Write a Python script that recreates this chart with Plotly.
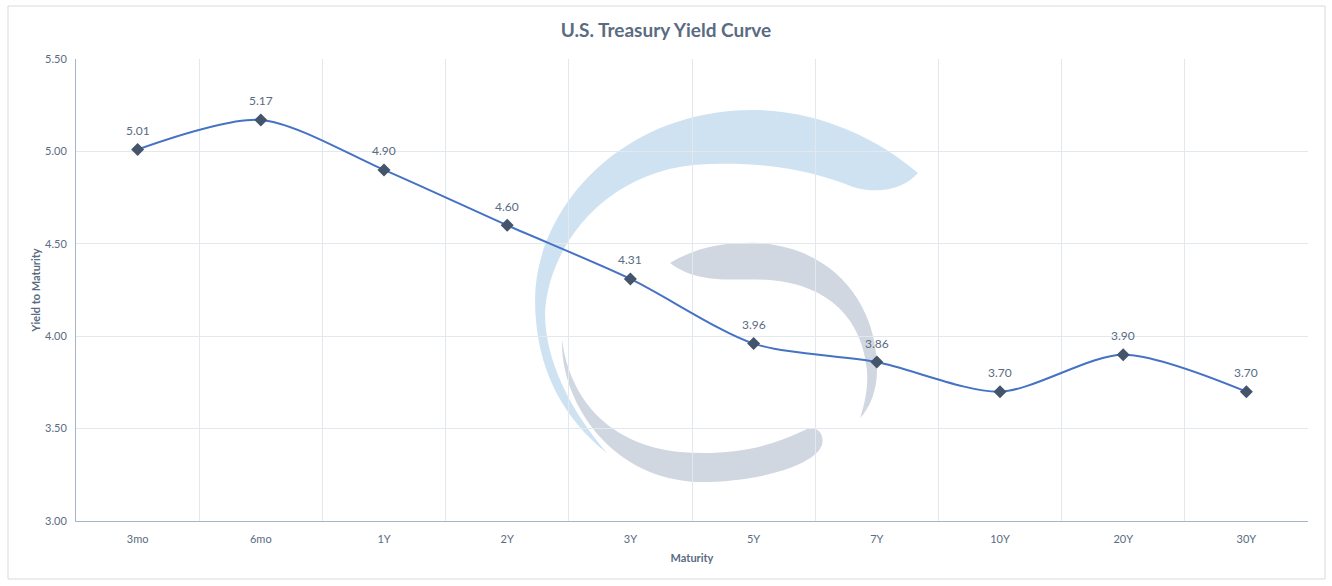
import plotly.graph_objects as go

maturities = ["3mo", "6mo", "1Y", "2Y", "3Y", "5Y", "7Y", "10Y", "20Y", "30Y"]
yields = [5.01, 5.17, 4.90, 4.60, 4.31, 3.96, 3.86, 3.70, 3.90, 3.70]
y_ticks = [3.00, 3.50, 4.00, 4.50, 5.00, 5.50]

W, H = 1332, 586
L, R, T, B = 76, 1308, 59, 521

def px(x, y):
    return ((x - L) / (R - L), (B - y) / (B - T))

def path(points):
    x0, y0 = px(*points[0])
    s = f"M {x0:.4f},{y0:.4f} "
    for seg in points[1:]:
        c = [px(*p) for p in seg]
        s += "C " + " ".join(f"{a:.4f},{b:.4f}" for a, b in c) + " "
    return s + "Z"

blue_crescent = path([
    (918, 173),
    ((880, 140), (820, 110), (753, 110)),
    ((620, 110), (535, 210), (535, 300)),
    ((535, 370), (565, 420), (607, 453)),
    ((570, 410), (545, 360), (545, 313)),
    ((548, 250), (600, 175), (693, 165)),
    ((760, 160), (810, 170), (853, 187)),
    ((880, 195), (905, 188), (918, 173)),
])
grey_upper = path([
    (670, 263),
    ((700, 245), (730, 242), (760, 243)),
    ((830, 248), (877, 300), (877, 370)),
    ((877, 390), (870, 408), (860, 418)),
    ((866, 400), (868, 385), (867, 370)),
    ((862, 320), (830, 285), (770, 280)),
    ((730, 278), (700, 285), (670, 263)),
])
grey_lower = path([
    (562, 340),
    ((560, 400), (610, 480), (700, 482)),
    ((760, 482), (815, 465), (822, 445)),
    ((825, 432), (815, 425), (805, 430)),
    ((760, 452), (720, 455), (680, 452)),
    ((610, 445), (570, 400), (562, 340)),
])

shapes = [
    dict(type="path", path=blue_crescent, xref="paper", yref="paper",
         fillcolor="#cfe2f1", line=dict(width=0), layer="below"),
    dict(type="path", path=grey_upper, xref="paper", yref="paper",
         fillcolor="#d1d7e1", line=dict(width=0), layer="below"),
    dict(type="path", path=grey_lower, xref="paper", yref="paper",
         fillcolor="#d1d7e1", line=dict(width=0), layer="below"),
]
bx0, by0 = px(8, 579)
bx1, by1 = px(1325, 6)
shapes.append(dict(type="rect", xref="paper", yref="paper", x0=bx0, y0=by0, x1=bx1, y1=by1,
                   line=dict(color="#d9d9d9", width=1), fillcolor="rgba(0,0,0,0)", layer="below"))

fig = go.Figure()
fig.add_trace(go.Scatter(
    x=maturities, y=yields, mode="lines+markers",
    line=dict(color="#4472c4", width=2, shape="spline", smoothing=0.8),
    marker=dict(symbol="diamond", size=10, color="#44546a"),
    cliponaxis=False, hoverinfo="x+y",
))

annotations = [
    dict(x=m, y=v, xref="x", yref="y", text=f"{v:.2f}", showarrow=False,
         yshift=19, yanchor="middle",
         font=dict(family="Lato", size=12, color="#5a6b82"))
    for m, v in zip(maturities, yields)
]

fig.update_layout(
    width=W, height=H,
    margin=dict(l=L, r=W - R, t=T, b=H - B, autoexpand=False),
    paper_bgcolor="white", plot_bgcolor="rgba(0,0,0,0)",
    showlegend=False,
    shapes=shapes,
    annotations=annotations,
    title=dict(text="<b>U.S. Treasury Yield Curve</b>", x=0.5, xanchor="center",
               y=1 - 30 / H, yanchor="middle",
               font=dict(family="Lato", size=19, color="#5a6b82")),
    font=dict(family="Lato", color="#5a6b82"),
)
fig.update_xaxes(
    type="category", range=[-0.5, len(maturities) - 0.5], tickson="boundaries",
    showgrid=True, gridcolor="#e3e7ee", gridwidth=1,
    showline=True, linecolor="#a7b4c8", linewidth=1, ticks="", ticklen=0,
    ticklabelstandoff=8,
    tickfont=dict(family="Lato", size=11, color="#5a6b82"),
    title=dict(text="<b>Maturity</b>", font=dict(family="Lato", size=11, color="#5a6b82"), standoff=10),
    zeroline=False,
)
fig.update_yaxes(
    range=[3.0, 5.5], tickvals=y_ticks, ticktext=[f"{v:.2f}" for v in y_ticks],
    showgrid=True, gridcolor="#e3e7ee", gridwidth=1,
    showline=True, linecolor="#a7b4c8", linewidth=1, ticks="",
    ticklabelstandoff=6,
    tickfont=dict(family="Lato", size=11, color="#5a6b82"),
    title=dict(text="<b>Yield to Maturity</b>", font=dict(family="Lato", size=11, color="#5a6b82"), standoff=2),
    zeroline=False,
)

fig.write_html("out.html", config={"displayModeBar": False},
               post_script="document.body.style.margin='0';document.body.style.overflow='hidden';")
